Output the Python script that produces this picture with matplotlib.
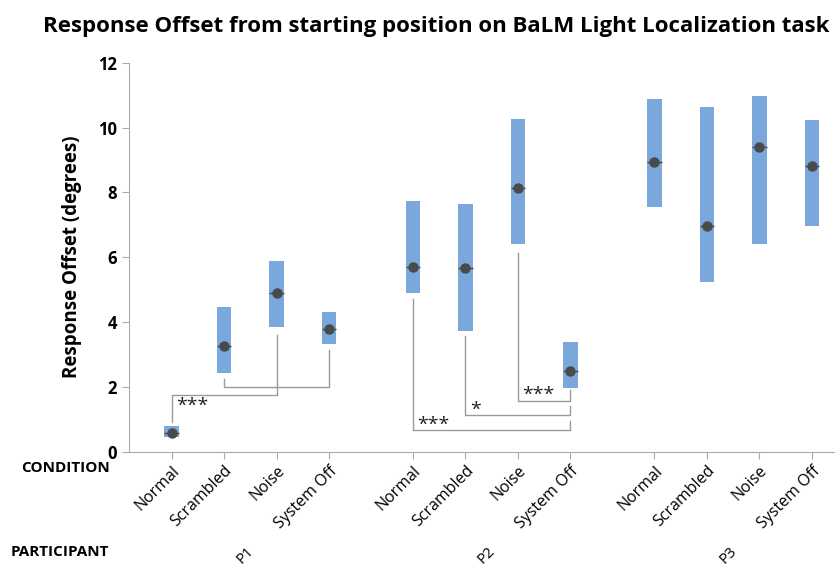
import numpy as np
import matplotlib
matplotlib.use("Agg")
import matplotlib.pyplot as plt

plt.rcParams['font.family'] = ['Open Sans', 'DejaVu Sans']

# data
participants = ["P1", "P2", "P3"]
conditions = ["Normal", "Scrambled", "Noise", "System Off"]
box_low = [0.46, 2.42, 3.84, 3.33,
           4.89, 3.73, 6.40, 1.96,
           7.54, 5.24, 6.42, 6.96]
box_high = [0.79, 4.46, 5.89, 4.32,
            7.73, 7.65, 10.26, 3.38,
            10.88, 10.64, 10.98, 10.24]
medians = [0.57, 3.26, 4.91, 3.78,
           5.71, 5.66, 8.15, 2.50,
           8.93, 6.97, 9.40, 8.80]

# significance brackets: (from idx, to idx, start y, bar y, end y, label, label y)
br_from = [0, 1, 6, 5, 4]
br_to = [2, 3, 7, 7, 7]
br_start = [0.93, 2.23, 6.12, 3.57, 4.70]
br_bar = [1.75, 2.00, 1.56, 1.13, 0.67]
br_end = [3.60, 3.14, 1.90, 1.41, 0.96]
br_label = ["***", "", "***", "*", "***"]
br_label_y = [1.40, 0, 1.75, 1.29, 0.82]

BLUE = "#7aa7dc"
DOT = "#4a4a4a"
LINE = "#9a9a9a"

group_gap = 1.6
xpos = []
for g in range(len(participants)):
    for c in range(len(conditions)):
        xpos.append(g * (len(conditions) - 1 + group_gap) + c)
xpos = np.array(xpos)

fig = plt.figure(figsize=(8.35, 5.67), dpi=100)
ax = fig.add_axes([0.1545, 0.2034, 0.8455, 0.686])

low = np.array(box_low)
high = np.array(box_high)
w = 0.27
ax.bar(xpos, high - low, bottom=low, width=w, color=BLUE, zorder=2)
ax.hlines(medians, xpos - w / 2, xpos + w / 2, color=DOT, lw=1, zorder=3)
ax.plot(xpos, medians, 'o', color=DOT, markersize=6.5, zorder=4)

for i in range(len(br_from)):
    x1, x2 = xpos[br_from[i]], xpos[br_to[i]]
    ax.plot([x1, x1, x2, x2], [br_start[i], br_bar[i], br_bar[i], br_end[i]],
            color=LINE, lw=1, zorder=1)
    if br_label[i]:
        ax.text(x1 + 0.08, br_label_y[i], br_label[i], fontsize=14,
                ha='left', va='center', color='#222222')

ax.set_xlim(-0.81, 12.64)
ax.set_ylim(0, 12)
ax.set_yticks(range(0, 13, 2))
ax.set_yticklabels([str(v) for v in range(0, 13, 2)], fontweight='bold', fontsize=12)
ax.set_xticks(xpos)
ax.set_xticklabels(conditions * len(participants), rotation=45, ha='right',
                   rotation_mode='anchor', fontsize=11.5)
for s in ['top', 'right']:
    ax.spines[s].set_visible(False)
for s in ['left', 'bottom']:
    ax.spines[s].set_color('#aaaaaa')
ax.tick_params(colors='#aaaaaa', length=5, labelcolor='black')
ax.tick_params(axis='x', pad=3)

ax.set_ylabel("Response Offset (degrees)", fontsize=13.5, fontweight='bold', labelpad=12)

fig.text(0.522, 0.953, "Response Offset from starting position on BaLM Light Localization task",
         ha='center', va='center', fontsize=16, fontweight='bold')
fig.text(0.131, 0.175, "CONDITION", fontsize=11, fontweight='bold', ha='right', va='center')
fig.text(0.131, 0.027, "PARTICIPANT", fontsize=11, fontweight='bold', ha='right', va='center')
for g, p in enumerate(participants):
    cx = xpos[g * len(conditions):(g + 1) * len(conditions)].mean()
    xf = fig.transFigure.inverted().transform(ax.transData.transform((cx, 0)))[0]
    fig.text(xf - 0.006, 0.02, p, rotation=45, fontsize=11, ha='center', va='center')

fig.savefig("out.png", dpi=100)
